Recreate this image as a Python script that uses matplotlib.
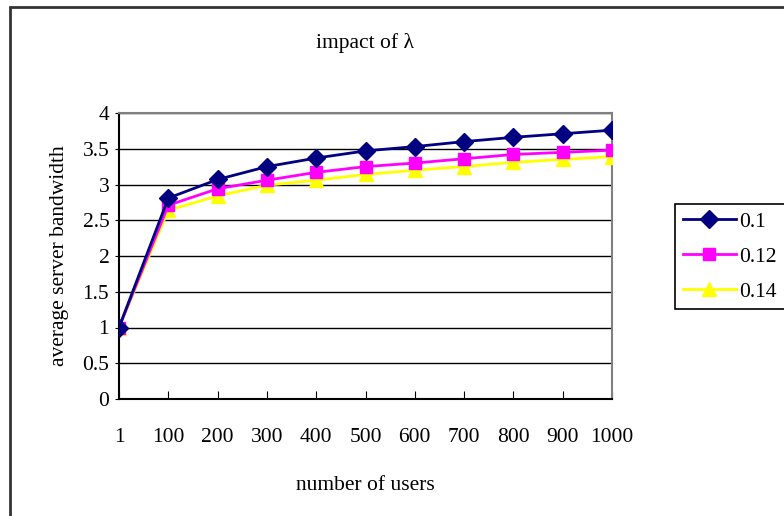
import matplotlib.pyplot as plt
from matplotlib.patches import Rectangle

# data
users = ['1', '100', '200', '300', '400', '500', '600', '700', '800', '900', '1000']
bw_01 = [1.0, 2.81, 3.07, 3.25, 3.37, 3.47, 3.53, 3.60, 3.66, 3.71, 3.76]
bw_012 = [1.0, 2.71, 2.94, 3.06, 3.17, 3.25, 3.30, 3.36, 3.42, 3.45, 3.48]
bw_014 = [1.0, 2.64, 2.84, 2.99, 3.06, 3.14, 3.20, 3.25, 3.31, 3.35, 3.39]

plt.rcParams['font.family'] = ['Liberation Serif', 'DejaVu Serif']
plt.rcParams['font.size'] = 15.5

fig = plt.figure(figsize=(7.84, 5.16), dpi=100)
ax = fig.add_axes([119 / 784, 1 - 399 / 516, (612 - 119) / 784, (399 - 113) / 516])

x = range(len(users))
ax.plot(x, bw_01, color='#000080', marker='D', markersize=9.5, lw=2, label='0.1', zorder=5)
ax.plot(x, bw_012, color='#ff00ff', marker='s', markersize=9, lw=2, label='0.12', zorder=4)
ax.plot(x, bw_014, color='#ffff00', marker='^', markersize=10.5, lw=2, label='0.14', zorder=3)

ax.set_xlim(0, len(users) - 1)
ax.set_ylim(0, 4)
ax.set_xticks(list(x))
ax.set_xticklabels(users)
ax.set_yticks([0, 0.5, 1, 1.5, 2, 2.5, 3, 3.5, 4])
ax.set_yticklabels(['0', '0.5', '1', '1.5', '2', '2.5', '3', '3.5', '4'])
ax.tick_params(axis='x', direction='in', length=6, pad=21, color='black')
ax.tick_params(axis='y', direction='out', length=3, pad=4)
ax.yaxis.grid(True, color='black', lw=1)
ax.set_axisbelow(True)
for side in ['top', 'right']:
    ax.spines[side].set_color('#808080')
    ax.spines[side].set_linewidth(1.5)
for side in ['left', 'bottom']:
    ax.spines[side].set_color('black')
    ax.spines[side].set_linewidth(1.5)

ax.set_xlabel('number of users', labelpad=21)
ax.set_ylabel('average server bandwidth', labelpad=10)
fig.text(0.5 * (119 + 612) / 784, 1 - 43 / 516, 'impact of λ', ha='center', va='center')

leg = fig.legend(loc='upper left', bbox_to_anchor=(675 / 784, 1 - 204 / 516), fancybox=False,
                 edgecolor='black', framealpha=1, handlelength=2.5, handletextpad=0.15,
                 borderpad=0.35, labelspacing=0.7, borderaxespad=0)
leg.get_frame().set_linewidth(1.2)

# outer chart border
fig.patches.append(Rectangle((9.5 / 784, -0.1), 2, 1.1 - 7 / 516, transform=fig.transFigure,
                             fill=False, edgecolor='#333333', lw=2))

fig.savefig('out.png', dpi=100)
